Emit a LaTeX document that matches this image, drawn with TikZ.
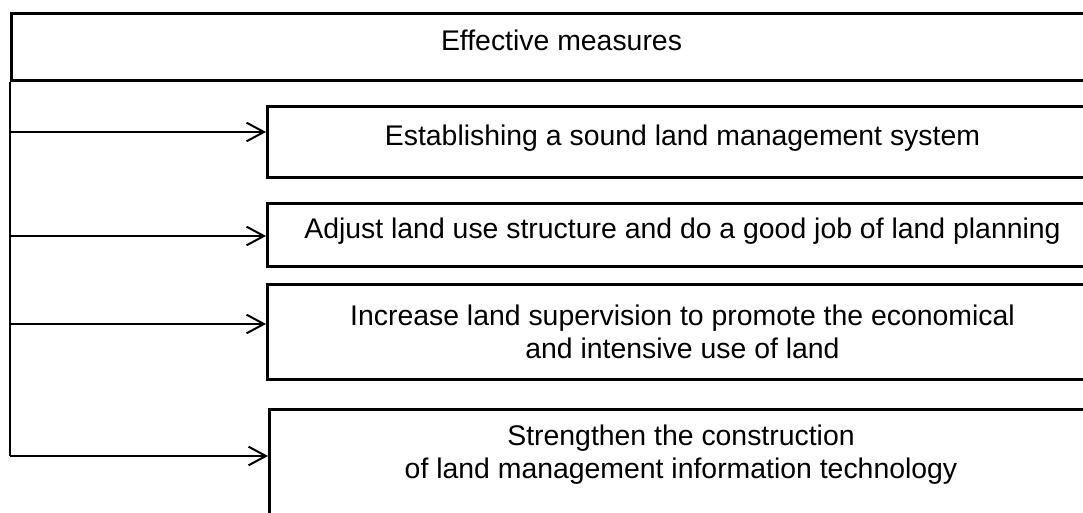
\documentclass[tikz,border=0pt]{standalone}
\usepackage{fontspec}
\setmainfont{Liberation Sans}
\usetikzlibrary{arrows.meta}
\begin{document}
\begin{tikzpicture}[x=0.75pt,y=-0.75pt,
    every node/.append style={font=\fontsize{21.3}{24.8}\selectfont,align=center},
    box/.style={draw,rectangle,line width=2.25pt,inner sep=0pt,anchor=north west,minimum width=622.5pt},
    oneline/.style={text height=15pt,text depth=9pt},
    trunk/.style={line width=1.5pt},
    arr/.style={line width=1.5pt,-{Straight Barb[length=13pt,width=14pt]}}]
      \clip (0,0) rectangle (1083,513);

      \node[box,oneline,minimum width=825pt,minimum height=50.25pt] (Measures) at (10,12) {Effective measures};
      \node[box,oneline,minimum height=53.25pt] (System) at (266,105) {Establishing a sound land management system};
      \node[box,oneline,minimum height=47.25pt] (Planning) at (266,202) {Adjust land use structure and do a good job of land planning};
      \node[box,minimum height=71.25pt] (Supervision) at (266,283) {Increase land supervision to promote the economical\\and intensive use of land};
      \node[box,minimum height=105pt] (Tech) at (268,408) {};
      \node (TechText) at (681,455) {Strengthen the construction\\of land management information technology};

      \coordinate (b1) at (10,132);
      \coordinate (b2) at (10,236);
      \coordinate (b3) at (10,324);
      \coordinate (b4) at (10,456);

      \draw [trunk] (Measures.south west)--(b4);

      \draw [arr] (b1)--(b1 -| System.west);
      \draw [arr] (b2)--(b2 -| Planning.west);
      \draw [arr] (b3)--(b3 -| Supervision.west);
      \draw [arr] (b4)--(b4 -| Tech.west);
    \end{tikzpicture}
\end{document}
